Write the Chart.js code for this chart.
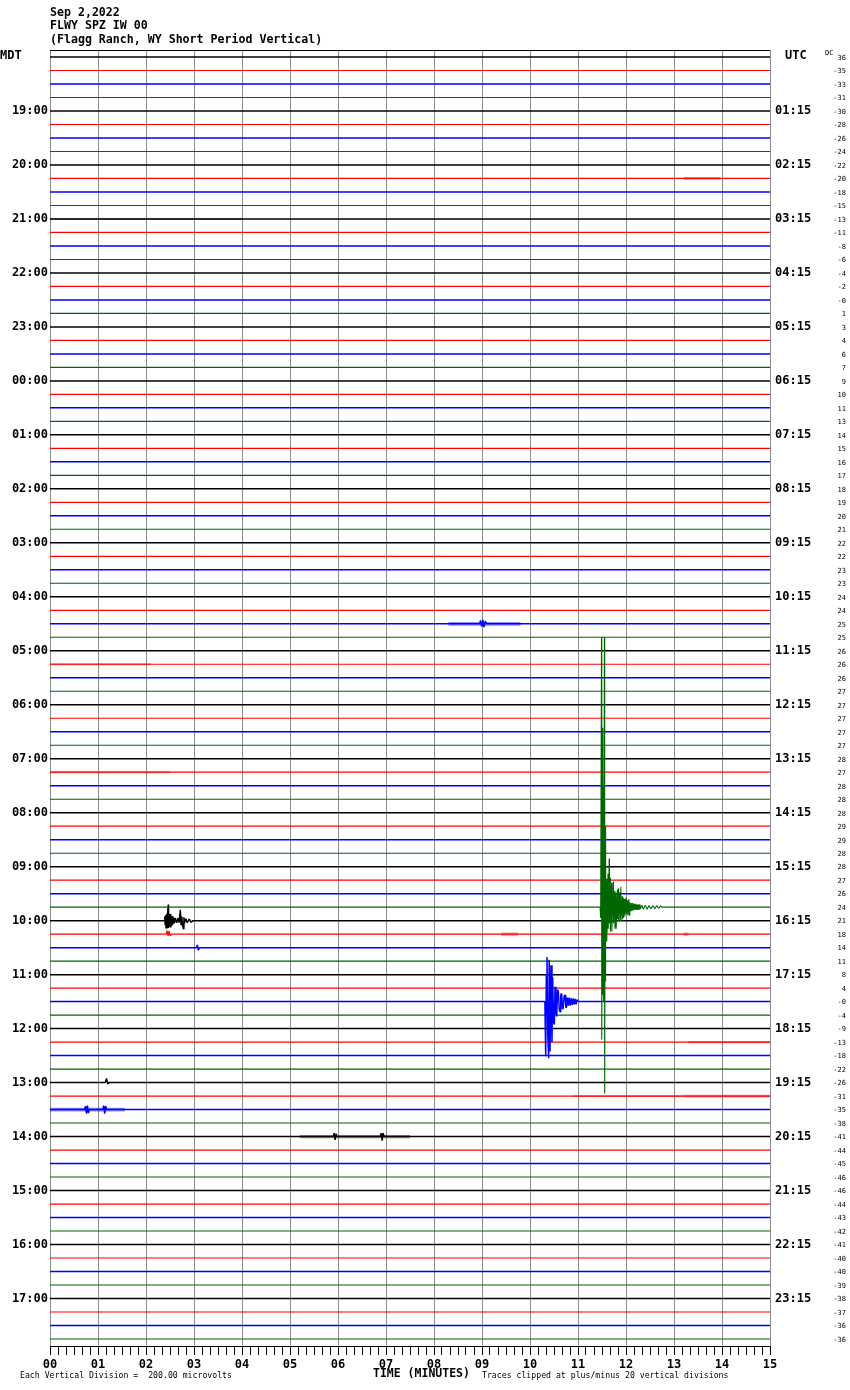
<!DOCTYPE html>
<html>
<head>
<meta charset="utf-8">
<script src="https://cdn.jsdelivr.net/npm/chart.js@4.4.1/dist/chart.umd.min.js"></script>
<style>
  html, body { margin: 0; padding: 0; background: #fff; }
</style>
</head>
<body>
<canvas id="heli" width="850" height="1390"></canvas>
<script>
// Header / labels
const titleLines = ['Sep 2,2022', 'FLWY SPZ IW 00', '(Flagg Ranch, WY Short Period Vertical)'];
const mdtLabels = ['19:00','20:00','21:00','22:00','23:00','00:00','01:00','02:00','03:00','04:00','05:00','06:00',
                   '07:00','08:00','09:00','10:00','11:00','12:00','13:00','14:00','15:00','16:00','17:00'];
const utcLabels = ['01:15','02:15','03:15','04:15','05:15','06:15','07:15','08:15','09:15','10:15','11:15','12:15',
                   '13:15','14:15','15:15','16:15','17:15','18:15','19:15','20:15','21:15','22:15','23:15'];
const minuteLabels = ['00','01','02','03','04','05','06','07','08','09','10','11','12','13','14','15'];
// DC offset printed at the right of each trace (96 traces, 15 min each)
const dcOffsets = [
  '36','-35','-33','-31','-30','-28','-26','-24','-22','-20','-18','-15','-13','-11','-8','-6',
  '-4','-2','-0','1','3','4','6','7','9','10','11','13','14','15','16','17',
  '18','19','20','21','22','22','23','23','24','24','25','25','26','26','26','27',
  '27','27','27','27','28','27','28','28','28','29','29','28','28','27','26','24',
  '21','18','14','11','8','4','-0','-4','-9','-13','-18','-22','-26','-31','-35','-38',
  '-41','-44','-45','-46','-46','-44','-43','-42','-41','-40','-40','-39','-38','-37','-36','-36'
];
const traceColors = ['#000000', '#ff0000', '#0000ff', '#006600'];
const bandColors = ['rgba(0,0,0,0.45)', 'rgba(255,0,0,0.45)', 'rgba(0,0,255,0.45)', 'rgba(0,102,0,0.35)'];
const traceWidths = [1.5, 1.2, 1.5, 1.1];

// Events: [minute, amplitude in vertical divisions]
const quakeGreen = [ // 09:45 trace
  [11.46,0],[11.47,0.6],[11.475,-0.8],[11.49,20],[11.495,-9.8],[11.505,7],[11.51,-6.5],[11.52,13.3],
  [11.525,-6],[11.535,9],[11.54,-7],[11.55,20],[11.556,-13.8],[11.565,6],[11.57,-5.5],[11.58,3],
  [11.585,-2.5],[11.60,2.1],[11.605,-1.9],[11.625,2.5],[11.63,-1.6],[11.65,3.6],[11.655,-1.2],
  [11.67,2.2],[11.675,-1.8],[11.70,1.8],[11.705,-1.8],[11.735,1.9],[11.74,-1.2],[11.765,1.2],
  [11.77,-1.6],[11.79,1.0],[11.795,-1.6],[11.82,1.3],[11.825,-0.9],[11.84,1.4],[11.845,-1.0],
  [11.87,1.1],[11.875,-0.9],[11.89,1.5],[11.895,-1.0],[11.92,0.8],[11.925,-0.9],[11.94,0.7],
  [11.945,-0.8],[11.97,0.6],[11.975,-0.7],[12.0,0.7],[12.005,-0.5],[12.03,0.5],[12.035,-0.6],
  [12.06,0.6],[12.065,-0.6],[12.08,0.35],[12.09,-0.3],[12.11,0.3],[12.12,-0.3],[12.14,0.3],
  [12.15,-0.25],[12.17,0.25],[12.18,-0.2],[12.2,0.25],[12.21,-0.2],[12.23,0.2],[12.24,-0.2],
  [12.26,0.2],[12.27,-0.2],[12.29,0.2],[12.3,-0.15],[12.33,0.15],[12.36,-0.15],[12.4,0.15],
  [12.44,-0.15],[12.48,0.12],[12.52,-0.12],[12.56,0.12],[12.6,-0.12],[12.64,0.12],[12.68,-0.1],
  [12.72,0.1],[12.74,0]
];
const quakeBlue = [ // 11:30 trace
  [10.31,0],[10.327,-4.05],[10.34,2.0],[10.354,3.3],[10.37,-2.5],[10.389,-4.2],[10.40,3.1],
  [10.417,-3.7],[10.4375,2.7],[10.458,-3.0],[10.472,1.8],[10.49,-1.5],[10.507,-1.7],[10.521,1.1],
  [10.54,-0.8],[10.556,-1.1],[10.575,0.9],[10.59,0.75],[10.61,-0.6],[10.625,-0.75],[10.64,0.5],
  [10.66,0.6],[10.675,-0.5],[10.69,-0.55],[10.71,0.4],[10.73,0.5],[10.745,-0.4],[10.76,-0.45],
  [10.78,0.3],[10.8,-0.3],[10.82,0.3],[10.84,-0.3],[10.86,0.25],[10.88,-0.25],[10.9,0.25],
  [10.92,-0.2],[10.94,0.2],[10.96,-0.2],[10.98,0.15],[11.0,0]
];
const burstBlack1000 = [
  [2.375,0],[2.39,0.3],[2.40,-0.3],[2.41,0.4],[2.417,-0.55],[2.43,0.5],[2.44,-0.5],[2.45,0.6],
  [2.465,1.2],[2.47,-0.55],[2.48,0.5],[2.49,-0.45],[2.5,0.5],[2.51,-0.5],[2.52,0.4],[2.535,-0.4],
  [2.545,0.35],[2.555,-0.3],[2.57,0.25],[2.59,-0.2],[2.61,0.2],[2.64,-0.15],[2.67,0.2],
  [2.69,-0.15],[2.715,0.8],[2.73,-0.3],[2.745,0.3],[2.76,-0.3],[2.78,-0.6],[2.79,0.25],[2.80,-0.2],
  [2.83,0.15],[2.86,-0.15],[2.9,0.12],[2.94,-0.12],[2.98,0]
];
const blipRed1015 = [[2.42,0],[2.44,0.25],[2.46,-0.15],[2.48,0.25],[2.5,-0.1],[2.52,0]];
const blipBlue1030 = [[3.05,0],[3.07,0.2],[3.09,-0.2],[3.11,0]];
const blipBlack1300 = [[1.15,0],[1.18,0.3],[1.2,-0.1],[1.23,0]];
const spikesBlue0430 = [[8.95,0],[8.97,0.25],[8.99,-0.2],[9.02,0.3],[9.04,-0.25],[9.07,0.2],[9.09,0]];
const spikesBlue1330 = [
  [0.72,0],[0.74,0.25],[0.76,-0.3],[0.78,0.3],[0.8,-0.25],[0.82,0],
  [1.1,0],[1.12,0.3],[1.14,-0.3],[1.16,0.25],[1.18,0]
];
const spikesBlack1400 = [
  [5.9,0],[5.92,0.25],[5.94,-0.25],[5.96,0.2],[5.98,0],
  [6.88,0],[6.9,0.25],[6.92,-0.3],[6.94,0.25],[6.96,0]
];

// trace index (0 = 18:00 MDT, 4 per hour) -> event arrays
const eventRows = [
  [63, quakeGreen], [70, quakeBlue], [64, burstBlack1000], [65, blipRed1015], [66, blipBlue1030],
  [76, blipBlack1300], [42, spikesBlue0430], [78, spikesBlue1330], [80, spikesBlack1400]
];

// Noisy stretches: [trace, start minute, end minute, half amplitude in divisions]
const noiseBands = [
  [9, 13.2, 13.96, 0.1], [12, 0, 4, 0.06], [42, 8.3, 9.8, 0.14],
  [45, 0, 2.1, 0.08], [53, 0, 2.5, 0.08], [65, 9.4, 9.75, 0.12], [65, 13.2, 13.3, 0.12],
  [73, 13.3, 15, 0.08], [77, 10.9, 13.2, 0.06], [77, 13.2, 15, 0.1], [78, 0, 1.56, 0.14],
  [80, 5.2, 7.5, 0.12]
];

const Y_MIN = -95.52, Y_MAX = 0.52, PLOT_H = 1296;
const pxPerDiv = PLOT_H / (Y_MAX - Y_MIN);

const datasets = [];
for (let r = 0; r < dcOffsets.length; r++) {
  let pts = [];
  eventRows.forEach(([row, ev]) => { if (row === r) pts = pts.concat(ev); });
  pts.sort((a, b) => a[0] - b[0]);
  const data = [{ x: 0, y: -r }]
    .concat(pts.map(([m, a]) => ({ x: m, y: -r + a })))
    .concat([{ x: 15, y: -r }]);
  datasets.push({
    data: data,
    borderColor: traceColors[r % 4],
    borderWidth: traceWidths[r % 4],
    borderJoinStyle: 'bevel',
    pointRadius: 0,
    tension: 0,
    order: (r === 63 || r === 70) ? 0 : 1
  });
}
noiseBands.forEach(([row, s, e, amp]) => {
  datasets.push({
    data: [{ x: s, y: -row }, { x: e, y: -row }],
    borderColor: bandColors[row % 4],
    borderWidth: Math.max(1.5, amp * 2 * pxPerDiv),
    borderCapStyle: 'butt',
    pointRadius: 0,
    order: 2
  });
});

// x ticks every 10 seconds, labelled every minute
const tickValues = [];
for (let m = 0; m < 15; m++) {
  for (let k = 0; k < 6; k++) tickValues.push(m + k / 6);
}
tickValues.push(15);

const MONO = '"DejaVu Sans Mono", "Liberation Mono", monospace';

const textPlugin = {
  id: 'heliText',
  afterDraw(chart) {
    const ctx = chart.ctx;
    const area = chart.chartArea;
    const y = chart.scales.y;
    ctx.save();
    // top border
    ctx.strokeStyle = '#000';
    ctx.lineWidth = 1;
    ctx.beginPath();
    ctx.moveTo(area.left, area.top + 0.5);
    ctx.lineTo(area.right, area.top + 0.5);
    ctx.stroke();

    ctx.fillStyle = '#000';
    ctx.textBaseline = 'middle';
    ctx.font = 'bold 11.6px ' + MONO;
    ctx.textAlign = 'left';
    titleLines.forEach((t, i) => ctx.fillText(t, 50, [13, 26, 40][i]));

    ctx.font = 'bold 12px ' + MONO;
    ctx.fillText('MDT', 0, 56);
    ctx.fillText('UTC', 785, 56);
    ctx.textAlign = 'right';
    mdtLabels.forEach((t, i) => ctx.fillText(t, 48, y.getPixelForValue(-(i + 1) * 4)));
    ctx.textAlign = 'left';
    utcLabels.forEach((t, i) => ctx.fillText(t, 775, y.getPixelForValue(-(i + 1) * 4)));

    // DC column
    ctx.font = '7px ' + MONO;
    ctx.fillText('DC', 825, 53);
    ctx.textAlign = 'right';
    dcOffsets.forEach((t, i) => ctx.fillText(t, 846, y.getPixelForValue(-i) + 1));

    // footer
    ctx.textAlign = 'left';
    ctx.font = '8.2px ' + MONO;
    ctx.fillText('Each Vertical Division =  200.00 microvolts', 20, 1376);
    ctx.fillText('Traces clipped at plus/minus 20 vertical divisions', 482, 1376);
    ctx.font = 'bold 11.5px ' + MONO;
    ctx.fillText('TIME (MINUTES)', 373, 1374);
    ctx.restore();
  }
};

new Chart(document.getElementById('heli'), {
  type: 'line',
  data: { datasets: datasets },
  options: {
    responsive: false,
    animation: false,
    events: [],
    layout: { padding: { left: 50, right: 80, top: 50, bottom: 0 } },
    plugins: { legend: { display: false }, tooltip: { enabled: false } },
    scales: {
      x: {
        type: 'linear',
        min: 0,
        max: 15,
        afterBuildTicks: (axis) => { axis.ticks = tickValues.map(v => ({ value: v })); },
        afterFit: (axis) => { axis.height = 44; },
        ticks: {
          autoSkip: false,
          maxRotation: 0,
          padding: 3,
          color: '#000',
          font: { family: MONO, size: 12, weight: 'bold' },
          callback: (v) => Number.isInteger(v) ? minuteLabels[v] : ''
        },
        grid: {
          color: (c) => (c.tick && Number.isInteger(c.tick.value)) ? '#8c8c8c' : 'rgba(0,0,0,0)',
          tickColor: '#000',
          tickLength: 9,
          lineWidth: 1
        },
        border: { display: true, color: '#000', width: 1 }
      },
      y: {
        type: 'linear',
        display: false,
        min: Y_MIN,
        max: Y_MAX
      }
    }
  },
  plugins: [textPlugin]
});
</script>
</body>
</html>
